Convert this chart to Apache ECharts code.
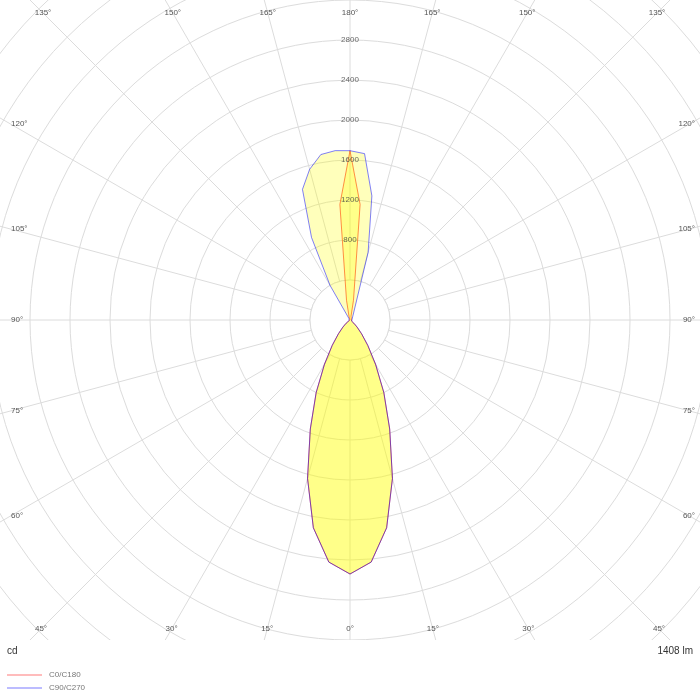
<!DOCTYPE html>
<html><head><meta charset="utf-8">
<script src="https://cdn.jsdelivr.net/npm/echarts@6/dist/echarts.min.js"></script>
<style>html,body{margin:0;padding:0;background:#fff}#c{width:700px;height:700px}</style>
</head><body><div id="c"></div>
<script>
// ---- data ----
const gammaAngles = [0,5,10,15,20,25,30,35,40,45,50,55,60,65,70,75,80,85,90,
  95,100,105,110,115,120,125,130,135,140,145,150,155,160,165,170,175,180];
// gamma 0..90 (downward lobe, same in all planes)
const lowerLobe = [2540,2430,2110,1640,1160,800,510,310,180,100,50,20,10,0,0,0,0,0,0];
// gamma 95..180 (upward lobe)
const upperC0   = [0,0,0,0,0,0,0,0,0,0,0,0,0,0,40,200,1160,1693];
const upperC180 = [0,0,0,0,0,0,0,0,0,0,0,0,0,0,40,200,1160,1693];
const upperC90  = [0,0,0,0,0,0,0,0,0,0,0,0,0,0,700,1260,1670,1693];
const upperC270 = [0,0,0,0,0,0,0,0,0,0,20,400,910,1390,1560,1680,1700,1693];
const seriesNames = ['C0/C180', 'C90/C270'];
const radiusTickLabels = [800,1200,1600,2000,2400,2800];
const angleTickLabels = [0,15,30,45,60,75,90,105,120,135,150,165,180];
const unitText = 'cd';
const fluxText = '1408 lm';

// ---- layout ----
const CX = 350, CY = 320, R = 480, RMAX = 4800;
const FONT = 'Liberation Sans, Arial, sans-serif';

function plane(rightVals, leftVals) {
  const right = gammaAngles.map((g, i) => [rightVals[i], g]);
  const left = gammaAngles.map((g, i) => [leftVals[i], 360 - g]).reverse();
  return right.concat(left);
}
const c0c180 = plane(lowerLobe.concat(upperC0), lowerLobe.concat(upperC180));
const c90c270 = plane(lowerLobe.concat(upperC90), lowerLobe.concat(upperC270));

// angle label positions on an inset rectangle
const graphics = [];
const halfW = 339, topD = 307, botD = 309;
function addAngleLabel(text, theta) {
  const rad = theta * Math.PI / 180;
  const dx = Math.sin(rad), dy = Math.cos(rad);
  const tSide = Math.abs(dx) > 1e-9 ? halfW / Math.abs(dx) : Infinity;
  const tV = Math.abs(dy) > 1e-9 ? (dy < 0 ? topD : botD) / Math.abs(dy) : Infinity;
  let x, y, align;
  if (tSide < tV) {
    y = CY + dy * tSide;
    if (dx < 0) { x = 11; align = 'left'; } else { x = 695; align = 'right'; }
  } else {
    x = CX + dx * tV;
    y = dy < 0 ? 13 : 629;
    align = 'center';
  }
  graphics.push({type: 'text', z: 3, x: x, y: y,
    style: {text: text, fill: '#555', font: '8px ' + FONT, align: align, verticalAlign: 'middle'}});
}
angleTickLabels.forEach(g => {
  addAngleLabel(g + '°', g);
  if (g !== 0 && g !== 180) addAngleLabel(g + '°', 360 - g);
});
// white hub
graphics.push({type: 'circle', z: 1, shape: {cx: CX, cy: CY, r: 40},
  style: {fill: '#fff', stroke: '#dcdcdc', lineWidth: 1}});
// bottom mask (clip plot area at y=640)
graphics.push({type: 'rect', z: 100, shape: {x: 0, y: 640, width: 700, height: 60},
  style: {fill: '#fff'}});
graphics.push({type: 'text', z: 110, x: 7, y: 651,
  style: {text: unitText, fill: '#333', font: '10px ' + FONT, align: 'left', verticalAlign: 'middle'}});
graphics.push({type: 'text', z: 110, x: 693, y: 651,
  style: {text: fluxText, fill: '#333', font: '10px ' + FONT, align: 'right', verticalAlign: 'middle'}});

const chart = echarts.init(document.getElementById('c'), null, {renderer: 'canvas'});
chart.setOption({
  animation: false,
  backgroundColor: '#fff',
  polar: {center: [CX, CY], radius: R},
  angleAxis: {
    type: 'value', min: 0, max: 360, interval: 15, startAngle: 270, clockwise: false, z: 0,
    axisLine: {show: false}, axisTick: {show: false}, axisLabel: {show: false},
    splitLine: {show: true, lineStyle: {color: '#dcdcdc', width: 1}}
  },
  radiusAxis: {
    type: 'value', min: 0, max: RMAX, interval: 400, z: 0,
    axisLine: {show: false}, axisTick: {show: false}, axisLabel: {show: false},
    splitLine: {show: true, lineStyle: {color: '#dcdcdc', width: 1}}
  },
  legend: {
    orient: 'vertical', left: 7, top: 670, bottom: 0, height: 40, padding: 0, z: 120,
    itemWidth: 35, itemHeight: 2, itemGap: 3,
    icon: 'rect',
    textStyle: {fontSize: 8, color: '#777', fontFamily: FONT, lineHeight: 10, padding: [0, 0, 0, 2]},
    data: [
      {name: seriesNames[0], itemStyle: {color: '#ffbcbc'}},
      {name: seriesNames[1], itemStyle: {color: '#bcbcff'}}
    ]
  },
  graphic: {elements: graphics},
  series: [
    {
      name: seriesNames[0], type: 'line', coordinateSystem: 'polar', data: c0c180,
      symbol: 'none', z: 2,
      lineStyle: {color: 'rgba(255,0,0,0.6)', width: 1},
      itemStyle: {color: 'rgba(255,0,0,0.6)'},
      areaStyle: {color: 'rgba(255,255,0,0.38)'}
    },
    {
      name: seriesNames[1], type: 'line', coordinateSystem: 'polar', data: c90c270,
      symbol: 'none', z: 3,
      lineStyle: {color: 'rgba(0,0,255,0.5)', width: 1},
      itemStyle: {color: 'rgba(0,0,255,0.5)'},
      areaStyle: {color: 'rgba(255,255,0,0.38)'}
    },
    {
      name: 'ticks', type: 'scatter', coordinateSystem: 'polar', z: 5, symbolSize: 0, silent: true,
      data: radiusTickLabels.map(v => [v, 180]),
      label: {show: true, position: 'inside', formatter: p => String(p.value[0]),
        color: '#444', fontSize: 8, fontFamily: FONT}
    }
  ]
});
</script></body></html>
